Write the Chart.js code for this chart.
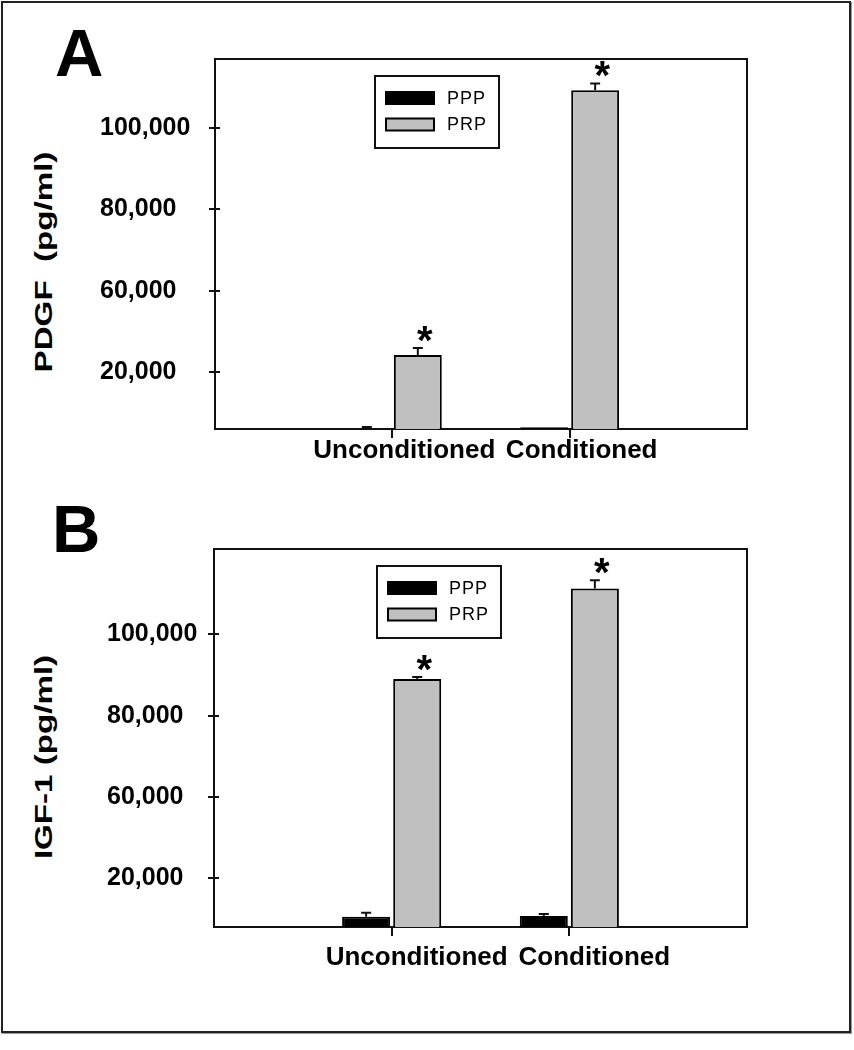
<!DOCTYPE html>
<html>
<head>
<meta charset="utf-8">
<script src="https://cdn.jsdelivr.net/npm/chart.js@4.4.0/dist/chart.umd.min.js"></script>
<style>
  body { margin: 0; background: #fff; }
  #page { position: relative; width: 854px; height: 1050px; overflow: hidden; font-family: 'Liberation Sans', Arial, sans-serif; }
  #frame { position: absolute; left: 1px; top: 1px; width: 850px; height: 1032px; box-sizing: border-box; border: 2px solid #222; box-shadow: 1px 1px 0 #999; }
  canvas { position: absolute; }
  .letter { position: absolute; font-weight: bold; font-size: 67px; line-height: 67px; color: #000; }
  .ytitle { position: absolute; font-weight: bold; font-size: 24px; line-height: 24px; white-space: nowrap; color: #000;
            transform: translate(-50%, -50%) rotate(-90deg) scaleX(1.38); }
</style>
</head>
<body>
<div id="page">
  <div id="frame"></div>
  <div class="letter" style="left:55px; top:19px;">A</div>
  <div class="letter" style="left:52px; top:495px;">B</div>
  <div class="ytitle" style="left:44px; top:262px;">PDGF&nbsp;&nbsp;(pg/ml)</div>
  <div class="ytitle" style="left:44px; top:757px;">IGF-1 (pg/ml)</div>
  <canvas id="chartA" width="660" height="440" style="left:100px; top:40px;"></canvas>
  <canvas id="chartB" width="653" height="450" style="left:107px; top:530px;"></canvas>
</div>
<script>
const categories = ['Unconditioned', 'Conditioned'];
const seriesNames = ['PPP', 'PRP'];
const yTickValues = [40000, 60000, 80000, 100000];
const yTickLabels = ['20,000', '60,000', '80,000', '100,000'];

// A: PDGF
const pdgfPPP = [26000, 26400];
const pdgfPRP = [44200, 109300];
const pdgfPPPErr = [500, 0];
const pdgfPRPErr = [1700, 1700];

// B: IGF-1
const igfPPP = [30500, 30700];
const igfPRP = [89000, 111300];
const igfPPPErr = [1000, 500];
const igfPRPErr = [500, 2000];

// asterisk marks (significance) per series
const pppStars = [false, false];
const prpStars = [true, true];

Chart.defaults.font.family = "'Liberation Sans', Arial, sans-serif";
Chart.defaults.color = '#000';

const pad = arr => [null, ...arr, null];

// error bars, asterisks, legend box and plot frame
const panelExtras = {
  id: 'panelExtras',
  afterDatasetsDraw(chart, args, opts) {
    const ctx = chart.ctx;
    const y = chart.scales.y;
    ctx.save();
    ctx.strokeStyle = '#111';
    ctx.lineWidth = 2;
    chart.data.datasets.forEach((ds, di) => {
      const meta = chart.getDatasetMeta(di);
      meta.data.forEach((bar, i) => {
        const v = ds.data[i];
        if (v == null) return;
        const err = opts.errors[di][i - 1];
        const top = y.getPixelForValue(v + err);
        if (err > 0) {
          ctx.beginPath();
          ctx.moveTo(bar.x, bar.y);
          ctx.lineTo(bar.x, top);
          ctx.moveTo(bar.x - 5, top);
          ctx.lineTo(bar.x + 5, top);
          ctx.stroke();
        }
        if (opts.stars[di][i - 1]) {
          ctx.fillStyle = '#000';
          ctx.font = "bold 40px 'Liberation Sans', Arial, sans-serif";
          ctx.textAlign = 'center';
          ctx.textBaseline = 'alphabetic';
          ctx.fillText('*', bar.x + 7, top + 6);
        }
      });
    });
    ctx.restore();
  },
  afterDraw(chart, args, opts) {
    const ctx = chart.ctx;
    const a = chart.chartArea;
    const y = chart.scales.y;
    ctx.save();
    ctx.strokeStyle = '#111';
    ctx.lineWidth = 2;
    ctx.beginPath();
    ctx.moveTo(a.left, a.top);
    ctx.lineTo(a.right, a.top);
    ctx.lineTo(a.right, a.bottom);
    y.ticks.forEach(t => {
      const py = Math.round(y.getPixelForValue(t.value));
      ctx.moveTo(a.left, py);
      ctx.lineTo(a.left + 5, py);
    });
    ctx.stroke();

    // legend
    const bx = a.left + opts.legend.x, by = a.top + opts.legend.y;
    ctx.strokeRect(bx, by, 124, 72);
    ctx.font = "18px 'Liberation Sans', Arial, sans-serif";
    ctx.letterSpacing = '1px';
    ctx.textAlign = 'left';
    ctx.textBaseline = 'middle';
    chart.data.datasets.forEach((ds, k) => {
      const ry = by + 22 + k * 26.5;
      ctx.fillStyle = ds.backgroundColor;
      ctx.fillRect(bx + 11, ry - 6, 48, 12);
      ctx.strokeStyle = ds.borderColor;
      ctx.strokeRect(bx + 11, ry - 6, 48, 12);
      ctx.fillStyle = '#000';
      ctx.fillText(ds.label, bx + 72, ry + 1);
    });
    ctx.restore();
  }
};

function makeChart(id, o) {
  const last = categories.length + 1;
  return new Chart(document.getElementById(id), {
    type: 'bar',
    data: {
      labels: ['', ...categories, ''],
      datasets: [
        { label: seriesNames[0], data: pad(o.ppp), backgroundColor: '#000000', borderColor: '#000000', borderWidth: 2 },
        { label: seriesNames[1], data: pad(o.prp), backgroundColor: '#c0c0c0', borderColor: '#000000', borderWidth: 2 }
      ]
    },
    plugins: [panelExtras],
    options: {
      responsive: false,
      animation: false,
      barPercentage: 0.94,
      categoryPercentage: 0.575,
      layout: { padding: { top: o.padTop, right: 13, left: 0, bottom: 0 } },
      plugins: {
        legend: { display: false },
        tooltip: { enabled: false },
        panelExtras: { errors: o.errors, stars: [pppStars, prpStars], legend: o.legend }
      },
      scales: {
        x: {
          offset: false,
          grid: {
            offset: false,
            drawOnChartArea: false,
            tickLength: 9,
            lineWidth: 2,
            color: c => (c.index === 0 || c.index === last) ? 'rgba(0,0,0,0)' : '#111'
          },
          border: { color: '#111', width: 2 },
          ticks: {
            autoSkip: false, maxRotation: 0,
            labelOffset: o.labelOffset, padding: o.xPad,
            color: '#000', font: { size: 26, weight: 'bold' }
          },
          afterFit: s => { s.height = o.xHeight; }
        },
        y: {
          min: o.min, max: o.max,
          afterBuildTicks: s => { s.ticks = yTickValues.map(v => ({ value: v })); },
          grid: { drawOnChartArea: false, tickLength: 6, lineWidth: 2, color: '#111' },
          border: { color: '#111', width: 2 },
          ticks: {
            crossAlign: 'far', padding: 4,
            color: '#000', font: { size: 25, weight: 'bold' },
            callback: (v, i) => yTickLabels[i]
          },
          afterFit: s => { s.width = o.yWidth; }
        }
      }
    }
  });
}

makeChart('chartA', {
  ppp: pdgfPPP, prp: pdgfPRP, errors: [pdgfPPPErr, pdgfPRPErr],
  min: 26000, max: 117000,
  padTop: 16, yWidth: 115, xHeight: 51, xPad: -3, labelOffset: 12,
  legend: { x: 160, y: 17 }
});

makeChart('chartB', {
  ppp: igfPPP, prp: igfPRP, errors: [igfPPPErr, igfPRPErr],
  min: 28000, max: 121000,
  padTop: 18, yWidth: 107, xHeight: 53, xPad: 6, labelOffset: 25,
  legend: { x: 163, y: 17 }
});
</script>
</body>
</html>
